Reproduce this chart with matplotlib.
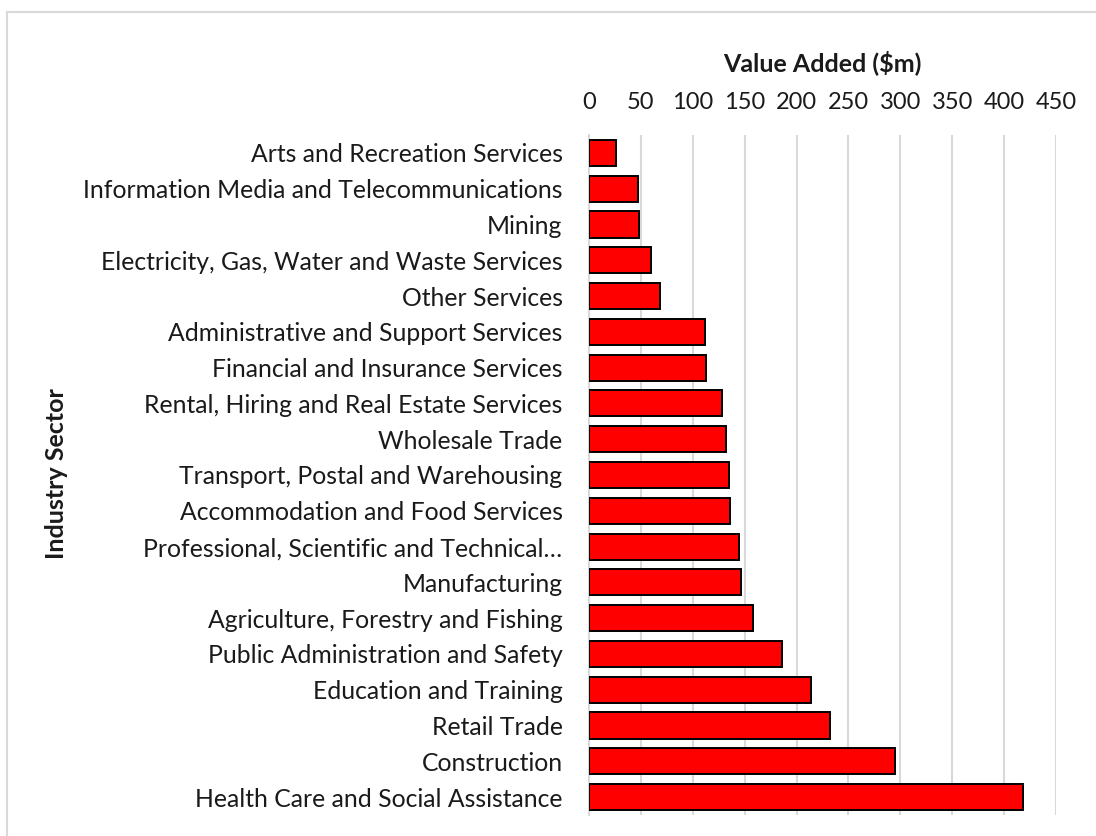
import matplotlib
matplotlib.use("Agg")
import matplotlib.pyplot as plt
from matplotlib.lines import Line2D

plt.rcParams["font.family"] = ["Lato", "DejaVu Sans"]

# --- DATA ---
sectors = [
    "Arts and Recreation Services",
    "Information Media and Telecommunications",
    "Mining",
    "Electricity, Gas, Water and Waste Services",
    "Other Services",
    "Administrative and Support Services",
    "Financial and Insurance Services",
    "Rental, Hiring and Real Estate Services",
    "Wholesale Trade",
    "Transport, Postal and Warehousing",
    "Accommodation and Food Services",
    "Professional, Scientific and Technical\u2026",
    "Manufacturing",
    "Agriculture, Forestry and Fishing",
    "Public Administration and Safety",
    "Education and Training",
    "Retail Trade",
    "Construction",
    "Health Care and Social Assistance",
]
value_added = [26.3, 47, 48.5, 59.7, 68.7, 111.4, 112.4, 128.4, 132, 135,
               136, 144.5, 146, 158.3, 185.6, 214.2, 232.5, 295, 418]
x_ticks = [0, 50, 100, 150, 200, 250, 300, 350, 400, 450]

TXT = "#1a1a1a"

# --- PLOT ---
W, H = 1096, 836
fig = plt.figure(figsize=(W / 100, H / 100), dpi=100)
ax = fig.add_axes([589 / W, 1 - 815 / H, (1056 - 589) / W, (815 - 135) / H])

ax.barh(range(len(sectors)), value_added, height=0.73, color="#ff0000",
        edgecolor="black", linewidth=1.4, zorder=3)

ax.set_ylim(len(sectors) - 0.5, -0.5)
ax.set_xlim(0, 450)
ax.set_yticks(range(len(sectors)))
ax.set_yticklabels(sectors, fontsize=17.8, color=TXT)
ax.set_xticks(x_ticks)
ax.set_xticklabels([str(t) for t in x_ticks], fontsize=17, color=TXT)
ax.xaxis.tick_top()
ax.tick_params(axis="both", length=0)
ax.tick_params(axis="x", pad=16)
ax.tick_params(axis="y", pad=19)

ax.grid(axis="x", color="#d9d9d9", linewidth=1.5, zorder=0)
for side in ["top", "right", "bottom"]:
    ax.spines[side].set_visible(False)
ax.spines["left"].set_color("#d9d9d9")
ax.spines["left"].set_linewidth(1.5)

fig.text((589 + 1056) / 2 / W, 1 - 63 / H, "Value Added ($m)", fontsize=18,
         fontweight="bold", ha="center", va="center", color=TXT)
fig.text(57 / W, 1 - 474 / H, "Industry Sector", fontsize=18,
         fontweight="bold", rotation=90, ha="center", va="center", color=TXT)

# chart-area border: only top and left edges are visible in the crop
fig.add_artist(Line2D([7 / W, 1], [1 - 12 / H, 1 - 12 / H], transform=fig.transFigure,
                      color="#d9d9d9", linewidth=1.5))
fig.add_artist(Line2D([7 / W, 7 / W], [0, 1 - 12 / H], transform=fig.transFigure,
                      color="#d9d9d9", linewidth=1.5))

fig.savefig("out.png", dpi=100)
